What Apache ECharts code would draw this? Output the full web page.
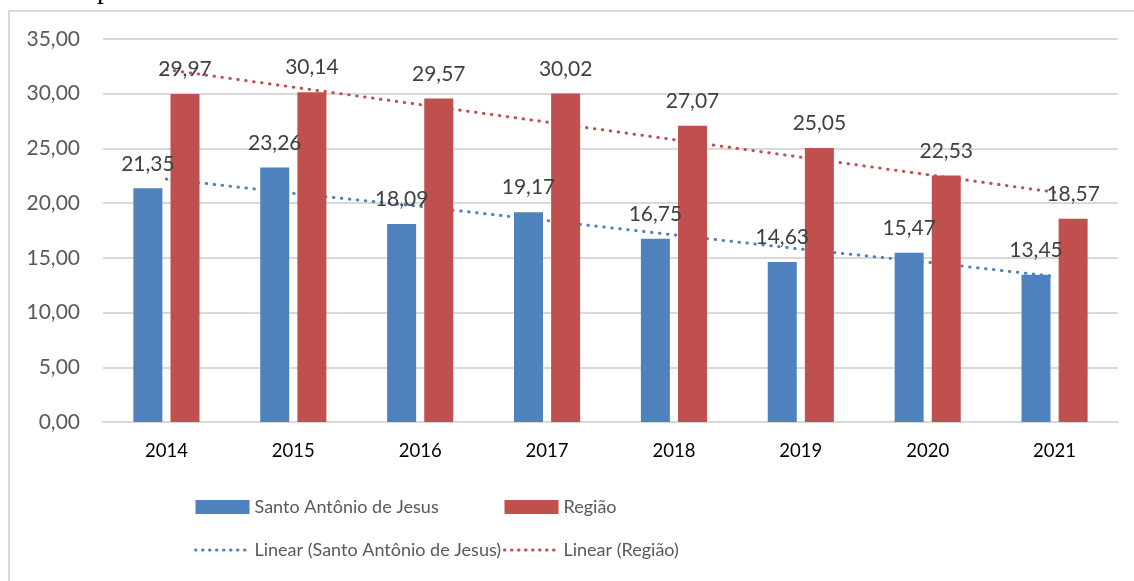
<!DOCTYPE html>
<html>
<head>
<meta charset="utf-8">
<script src="https://cdn.jsdelivr.net/npm/echarts@6/dist/echarts.min.js"></script>
<style>
    html, body { margin: 0; padding: 0; background: #fff; }
    #main { width: 1134px; height: 581px; }
</style>
</head>
<body>
<div id="main"></div>
<script>
// dados
let years = ['2014', '2015', '2016', '2017', '2018', '2019', '2020', '2021'];
let santo_antonio = [21.35, 23.26, 18.09, 19.17, 16.75, 14.63, 15.47, 13.45];
let regiao = [29.97, 30.14, 29.57, 30.02, 27.07, 25.05, 22.53, 18.57];
// linhas de tendência (em cada ano)
let linear_santo_antonio = [22.2, 20.9, 19.7, 18.4, 17.1, 15.8, 14.6, 13.3];
let linear_regiao = [32.2, 30.6, 29.0, 27.4, 25.8, 24.2, 22.6, 21.0];
let y_min = 0, y_max = 35, y_step = 5;

let font = 'Lato, "Liberation Sans", sans-serif';

function fmt(v) {
    return Number(v).toFixed(2).replace('.', ',');
}

var myChart = echarts.init(document.getElementById('main'));

var legend_text = { fontSize: 18, color: '#595959', fontFamily: font, lineHeight: 20 };
var legend_dots = { width: 3, type: [0.5, 6.5], cap: 'round' };

var option = {
    backgroundColor: '#fff',
    animation: false,
    textStyle: { fontFamily: font },
    graphic: [
        {
            type: 'rect',
            shape: { x: 9, y: 11, width: 1300, height: 800 },
            style: { fill: 'none', stroke: '#d9d9d9', lineWidth: 2 },
            z: -1
        },
        {
            type: 'text',
            x: 97,
            y: -9,
            style: {
                text: 'p',
                fontFamily: '"Liberation Serif", serif',
                fontSize: 28,
                fill: '#000',
                verticalAlign: 'middle'
            }
        }
    ],
    grid: {
        left: 103,
        right: 16,
        top: 39,
        bottom: 159
    },
    legend: [
        {
            orient: 'vertical',
            left: 194,
            top: 497,
            padding: 0,
            itemWidth: 54,
            itemHeight: 14,
            itemGap: 23,
            textStyle: legend_text,
            data: [
                { name: 'Santo Antônio de Jesus', icon: 'rect' },
                { name: 'Linear (Santo Antônio de Jesus)', itemStyle: { opacity: 0 }, lineStyle: legend_dots }
            ]
        },
        {
            orient: 'vertical',
            left: 503,
            top: 497,
            padding: 0,
            itemWidth: 54,
            itemHeight: 14,
            itemGap: 23,
            textStyle: legend_text,
            data: [
                { name: 'Região', icon: 'rect' },
                { name: 'Linear (Região)', itemStyle: { opacity: 0 }, lineStyle: legend_dots }
            ]
        }
    ],
    xAxis: {
        type: 'category',
        data: years,
        axisTick: { show: false },
        axisLine: { lineStyle: { color: '#d9d9d9', width: 2 } },
        axisLabel: { fontSize: 18.5, color: '#000', margin: 20, fontFamily: font }
    },
    yAxis: {
        type: 'value',
        min: y_min,
        max: y_max,
        interval: y_step,
        axisLine: { show: false },
        axisTick: { show: false },
        splitLine: { lineStyle: { color: '#d9d9d9', width: 2 } },
        axisLabel: {
            fontSize: 21,
            color: '#595959',
            margin: 23,
            fontFamily: font,
            formatter: function (v) { return fmt(v); }
        }
    },
    series: [
        {
            name: 'Santo Antônio de Jesus',
            type: 'bar',
            data: santo_antonio,
            barWidth: 29,
            barGap: '28%',
            z: 3,
            itemStyle: { color: '#4f81bd' },
            label: {
                show: true,
                position: 'top',
                distance: 14,
                fontSize: 21,
                color: '#404040',
                fontFamily: font,
                formatter: function (p) { return fmt(p.value); }
            }
        },
        {
            name: 'Região',
            type: 'bar',
            data: regiao,
            barWidth: 29,
            barGap: '28%',
            z: 3,
            itemStyle: { color: '#c0504d' },
            label: {
                show: true,
                position: 'top',
                distance: 14,
                fontSize: 21,
                color: '#404040',
                fontFamily: font,
                formatter: function (p) { return fmt(p.value); }
            }
        },
        {
            name: 'Linear (Santo Antônio de Jesus)',
            type: 'line',
            data: linear_santo_antonio,
            symbol: 'none',
            z: 1,
            itemStyle: { color: '#4f81bd' },
            lineStyle: { color: '#4f81bd', width: 3, type: [0.5, 7.5], cap: 'round' }
        },
        {
            name: 'Linear (Região)',
            type: 'line',
            data: linear_regiao,
            symbol: 'none',
            z: 1,
            itemStyle: { color: '#c0504d' },
            lineStyle: { color: '#c0504d', width: 3, type: [0.5, 7.5], cap: 'round' }
        }
    ]
};

myChart.setOption(option);
</script>
</body>
</html>
